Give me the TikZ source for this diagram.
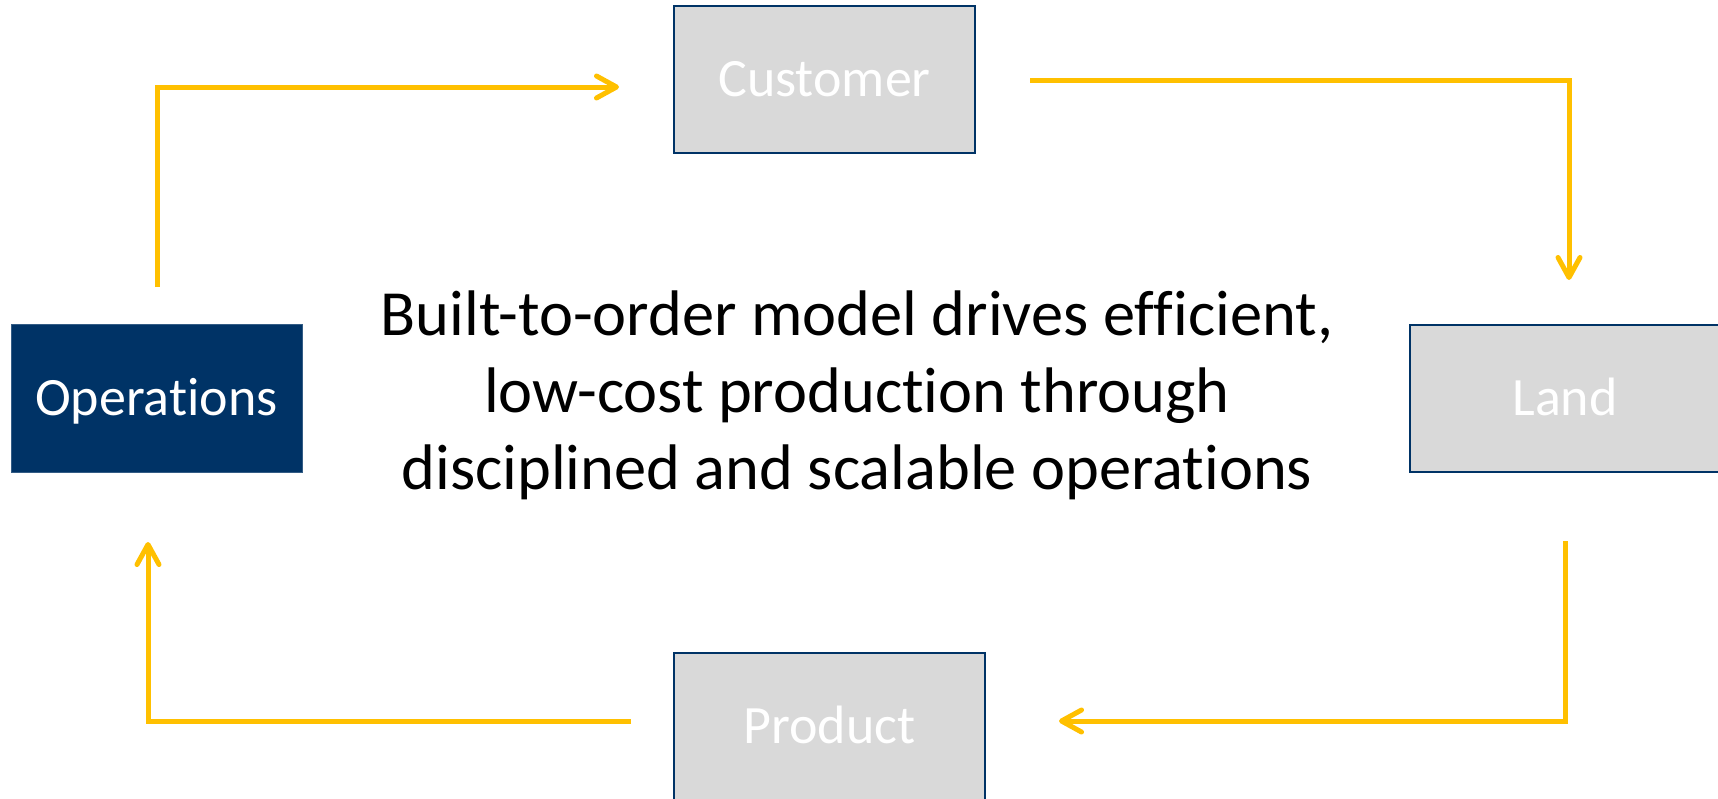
\documentclass[tikz,border=0pt]{standalone}
\usepackage{fontspec}
\setmainfont{Carlito}[Ligatures=NoCommon]
\usetikzlibrary{arrows.meta}
\definecolor{navy}{RGB}{0,51,102}
\definecolor{boxgrey}{RGB}{217,217,217}
\definecolor{flow}{RGB}{255,192,0}
\begin{document}
\begin{tikzpicture}[x=0.5pt,y=-0.5pt,
  labelfont/.style={font=\fontsize{27}{32}\selectfont,text height=17.4pt,text depth=0pt},
  stagebox/.style={draw=navy,line width=1pt,fill=boxgrey,text=white,
    labelfont,inner sep=0pt},
  hubbox/.style={draw=navy!80!white,line width=0.5pt,fill=navy,text=white,
    labelfont,inner sep=0pt},
  flowline/.style={draw=flow,line width=2.5pt,
    -{Straight Barb[length=10pt,width=11pt,round]}}]
\useasboundingbox (0,0) rectangle (1718,798);
% boxes of the cycle
\node[hubbox,minimum width=145.5pt,minimum height=74pt] (ops) at (156.5,398) {Operations};
\node[stagebox,minimum width=150.5pt,minimum height=73.5pt] (cust) at (824.5,79.5) {Customer};
\node[stagebox,minimum width=155pt,minimum height=73.5pt] (land) at (1565,398) {Land};
\node[stagebox,minimum width=155.5pt,minimum height=74pt] (prod) at (829.5,726.5) {Product};
% central statement
\node[align=center,font=\fontsize{32.2}{38.5}\selectfont] (msg) at (857,395)
  {Built-to-order model drives efficient,\\low-cost production through\\disciplined and scalable operations};
% ends of the flow arrows
\coordinate (o1) at (157,287);
\coordinate (c1) at (619,87);
\coordinate (c2) at (1030,80);
\coordinate (l1) at (1569,280);
\coordinate (l2) at (1565,541);
\coordinate (p1) at (1059,721);
\coordinate (p2) at (631,721);
\coordinate (o2) at (148,542);
\draw[flowline] (o1) |- (c1);
\draw[flowline] (c2) -| (l1);
\draw[flowline] (l2) |- (p1);
\draw[flowline] (p2) -| (o2);
\end{tikzpicture}
\end{document}
